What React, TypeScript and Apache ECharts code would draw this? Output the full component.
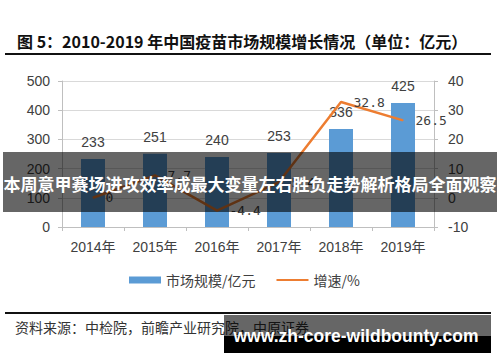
import React, { useEffect, useRef } from "react";
import * as echarts from "echarts";

const categories = ["2014年", "2015年", "2016年", "2017年", "2018年", "2019年"];
const marketSize = [233, 251, 240, 253, 336, 425];
const growthRate = [0, 7.7, -4.4, 5.4, 32.8, 26.5];
const leftAxis = { min: 0, max: 500, interval: 100 };
const rightAxis = { min: -10, max: 40, interval: 10 };
const seriesNames = ["市场规模/亿元", "增速/%"];
const titleText = "图 5：2010-2019 年中国疫苗市场规模增长情况（单位：亿元）";
const sourceText = "资料来源：中检院，前瞻产业研究院，中原证券";
const bannerText = "本周意甲赛场进攻效率成最大变量左右胜负走势解析格局全面观察";
const watermarkText = "www.zh-core-wildbounty.com";

const LATIN = "'Liberation Sans', Arial, 'Noto Sans CJK SC', sans-serif";
const CJK = "'Noto Sans CJK SC', 'Liberation Sans', sans-serif";
const TXT = "#404040";

export default function App() {
  const ref = useRef<HTMLDivElement>(null);
  useEffect(() => {
    if (!ref.current) return;
    const chart = echarts.init(ref.current, undefined, { renderer: "svg" });
    chart.setOption({
      animation: false,
      backgroundColor: "#ffffff",
      grid: { left: 62, right: 66, top: 81, bottom: 135, containLabel: false },
      legend: {
        left: 124,
        top: 268,
        itemWidth: 32,
        itemHeight: 7,
        itemGap: 20,
        textStyle: { fontSize: 14, color: TXT, fontFamily: CJK },
        data: [
          { name: seriesNames[0], icon: "rect" },
          { name: seriesNames[1], itemStyle: { opacity: 0 } },
        ],
      },
      xAxis: {
        type: "category",
        data: categories,
        axisLine: { show: true, lineStyle: { color: "#bfbfbf", width: 1 } },
        axisTick: { show: true, length: 4, lineStyle: { color: "#bfbfbf" } },
        axisLabel: { fontSize: 14, color: TXT, margin: 13, fontFamily: LATIN },
      },
      yAxis: [
        {
          type: "value",
          min: leftAxis.min,
          max: leftAxis.max,
          interval: leftAxis.interval,
          axisLine: { show: true, lineStyle: { color: "#bfbfbf" } },
          axisTick: { show: true, length: 4, lineStyle: { color: "#bfbfbf" } },
          splitLine: { show: true, lineStyle: { color: "#d9d9d9" } },
          axisLabel: { fontSize: 14, color: TXT, margin: 12, fontFamily: LATIN },
        },
        {
          type: "value",
          min: rightAxis.min,
          max: rightAxis.max,
          interval: rightAxis.interval,
          position: "right",
          axisLine: { show: true, lineStyle: { color: "#bfbfbf" } },
          axisTick: { show: true, length: 4, lineStyle: { color: "#bfbfbf" } },
          splitLine: { show: false },
          axisLabel: { fontSize: 14, color: TXT, margin: 14, fontFamily: LATIN },
        },
      ],
      series: [
        {
          name: seriesNames[0],
          type: "bar",
          data: marketSize,
          barWidth: 24,
          itemStyle: { color: "#5B9BD5" },
          label: {
            show: true,
            position: "top",
            distance: 10,
            fontSize: 14,
            color: TXT,
            fontFamily: LATIN,
          },
        },
        {
          name: seriesNames[1],
          type: "line",
          yAxisIndex: 1,
          data: growthRate,
          symbol: "circle",
          symbolSize: 1,
          showSymbol: true,
          lineStyle: { color: "#ED7D31", width: 2.5 },
          itemStyle: { color: "#ED7D31" },
          z: 3,
          label: {
            show: true,
            position: "right",
            distance: 12,
            fontSize: 13,
            color: TXT,
            fontFamily: "'DejaVu Sans Mono', 'Liberation Mono', monospace",
          },
        },
      ],
      graphic: [
        {
          type: "text",
          left: 17,
          top: 33,
          z: 100,
          style: {
            text: titleText,
            font: `bold 16px ${CJK}`,
            fill: "#111111",
          },
        },
        {
          type: "rect",
          z: 100,
          shape: { x: 5, y: 53, width: 486, height: 2 },
          style: { fill: "#111111" },
        },
        {
          type: "rect",
          z: 100,
          shape: { x: 5, y: 312, width: 486, height: 2 },
          style: { fill: "#111111" },
        },
        {
          type: "text",
          left: 15,
          top: 320,
          z: 100,
          style: {
            text: sourceText,
            font: `14px ${CJK}`,
            fill: "#333333",
          },
        },
        {
          type: "rect",
          z: 110,
          shape: { x: 3, y: 152, width: 494, height: 60 },
          style: { fill: "rgba(0,0,0,0.6)" },
        },
        {
          type: "text",
          z: 111,
          x: 250,
          y: 183,
          style: {
            text: bannerText,
            font: `bold 17px ${CJK}`,
            fill: "#ffffff",
            align: "center",
            verticalAlign: "middle",
          },
        },
        {
          type: "rect",
          z: 110,
          shape: { x: 224, y: 315, width: 267, height: 21 },
          style: { fill: "rgba(0,0,0,0.6)" },
        },
        {
          type: "rect",
          z: 110,
          shape: { x: 224, y: 336, width: 267, height: 17 },
          style: { fill: "#000000" },
        },
        {
          type: "text",
          z: 111,
          x: 356,
          y: 336,
          style: {
            text: watermarkText,
            font: `bold 17.5px 'Liberation Sans', Arial, sans-serif`,
            fill: "#ffffff",
            align: "center",
            verticalAlign: "middle",
          },
        },
      ],
    });
    return () => chart.dispose();
  }, []);
  return (
    <div
      ref={ref}
      style={{ position: "absolute", left: 0, top: 0, width: 500, height: 362 }}
    />
  );
}
